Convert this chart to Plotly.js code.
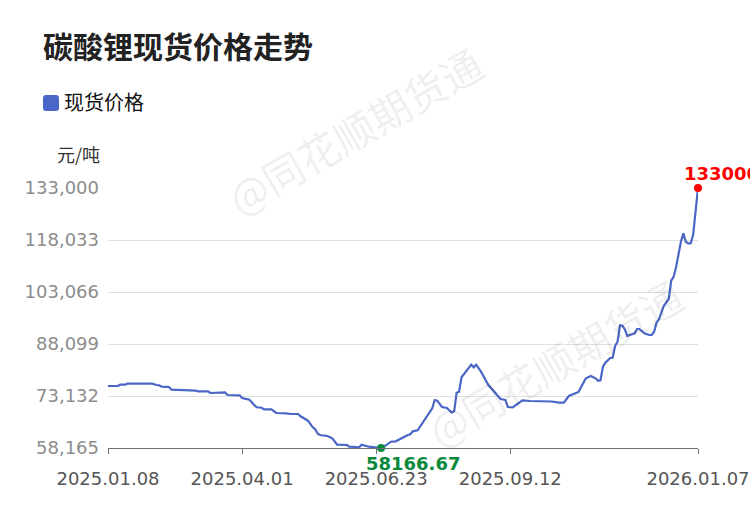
<!DOCTYPE html>
<html>
<head>
<meta charset="utf-8">
<script src="https://cdn.plot.ly/plotly-3.0.1.min.js"></script>
<style>html,body{margin:0;padding:0;background:#fff}</style>
</head>
<body>
<div id="chart" style="width:750px;height:510px"></div>
<script>
const chartTitle = "碳酸锂现货价格走势";
const seriesName = "现货价格";
const unitLabel = "元/吨";
const watermark = "@同花顺期货通";
const dayIndex = [0,4,5,7,8,18,20,21,22,25,26,31,36,37,41,42,44,45,48,49,54,55,58,60,61,63,64,67,69,73,75,78,79,82,84,85,86,87,90,92,94,98,99,103,104,107,112,114,116,118,120,121,123,124,125,127,129,131,133,134,135,137,139,141,142,143,144,145,147,149,150,151,153,156,159,161,163,164,166,170,173,177,182,185,187,189,190,193,195,196,198,200,201,202,203,204,206,207,208,209,210,211,212,213,214,216,217,218,220,222,223,224,225,226,228,230,231,232,233,235,236,237,238,239,240,242];
const price = [76010,76010,76385,76385,76672,76672,76298,76212,75809,75723,74945,74859,74658,74485,74485,73996,73996,74197,74197,73420,73334,72557,72067,70542,69880,69765,69304,69304,68239,68153,67951,67951,67289,66023,64123,63547,62281,61907,61619,60957,59115,59028,58539,58366,59115,58539,58166.67,58942,59978,60093,60842,61245,61907,62108,62972,63260,65274,67663,69592,71981,71779,69966,69678,68325,68815,74082,74370,78514,80414,82141,81393,82141,80126,76298,73909,72269,71981,69966,69880,71894,71693,71549,71549,71204,71204,73132,73420,74283,76960,78227,78889,78227,77536,77651,81565,82717,84070,84156,87524,88761,93482,93367,92330,90402,90690,91179,92417,92417,91179,90690,90690,91639,94230,95208,99123,101052,106318,107470,110176,117544,119962,117544,117083,117083,119473,133000];
const xTickIndex = [0,55,110,165,242];
const xTickLabels = ["2025.01.08","2025.04.01","2025.06.23","2025.09.12","2026.01.07"];
const yTicks = [58165,73132,88099,103066,118033,133000];
const yTickLabels = ["58,165","73,132","88,099","103,066","118,033","133,000"];

const minV = Math.min(...price), maxV = Math.max(...price);
const minI = dayIndex[price.indexOf(minV)], maxI = dayIndex[price.indexOf(maxV)];
const tickFont = "'DejaVu Sans', sans-serif";
const cjk = "'Noto Sans CJK SC', 'Noto Sans', sans-serif";

const traces = [
  {x: dayIndex, y: price, mode: "lines", name: seriesName, cliponaxis: false, hoverinfo: "x+y",
   line: {color: "#4a66c6", width: 2.2, shape: "linear"}},
  {x: [minI], y: [minV], mode: "markers", cliponaxis: false, marker: {color: "#0a8a3c", size: 8}},
  {x: [maxI], y: [maxV], mode: "markers", cliponaxis: false, marker: {color: "#ff0000", size: 8}}
];
const layout = {
  width: 750, height: 510, showlegend: false,
  paper_bgcolor: "#fff", plot_bgcolor: "rgba(0,0,0,0)",
  margin: {l: 108, r: 52, t: 188, b: 62, pad: 0},
  title: {text: chartTitle, x: 43/750, xanchor: "left", xref: "container", y: 1-47/510, yanchor: "middle",
    font: {family: cjk, size: 30, color: "#222", weight: 700}},
  xaxis: {type: "linear", range: [0, 242], tickmode: "array", tickvals: xTickIndex, ticktext: xTickLabels,
    showgrid: false, zeroline: false, showline: true, linecolor: "#6e7079", linewidth: 1,
    ticks: "outside", ticklen: 5, tickcolor: "#6e7079", tickwidth: 1, ticklabelstandoff: 9,
    tickfont: {family: tickFont, size: 18, color: "#555"}},
  yaxis: {type: "linear", range: [58165, 133000], tickmode: "array", tickvals: yTicks, ticktext: yTickLabels,
    showgrid: true, gridcolor: "#e0e0e0", gridwidth: 1, zeroline: false, showline: false, ticks: "",
    ticklabelstandoff: 8,
    tickfont: {family: tickFont, size: 18, color: "#8c8c8c"}},
  shapes: [{type: "path", xref: "paper", yref: "paper", fillcolor: "#4a66c6", line: {width: 0},
    path: "M " + (-62/590) + " " + (353/260) + " L " + (-52/590) + " " + (353/260) +
      " Q " + (-49/590) + " " + (353/260) + " " + (-49/590) + " " + (350/260) +
      " L " + (-49/590) + " " + (340/260) + " Q " + (-49/590) + " " + (337/260) + " " + (-52/590) + " " + (337/260) +
      " L " + (-62/590) + " " + (337/260) + " Q " + (-65/590) + " " + (337/260) + " " + (-65/590) + " " + (340/260) +
      " L " + (-65/590) + " " + (350/260) + " Q " + (-65/590) + " " + (353/260) + " " + (-62/590) + " " + (353/260) + " Z"}],
  annotations: [
    {xref: "paper", yref: "paper", x: -46/590, y: 347/260, xanchor: "left", yanchor: "middle", showarrow: false,
     text: seriesName, font: {family: cjk, size: 20, color: "#111"}},
    {xref: "paper", yref: "paper", x: -6/590, y: 294/260, xanchor: "right", yanchor: "middle", showarrow: false,
     text: unitLabel, font: {family: cjk, size: 18, color: "#333"}},
    {xref: "x", yref: "y", x: maxI, y: maxV, xanchor: "left", yanchor: "bottom", xshift: -16, yshift: 2, showarrow: false,
     text: String(maxV), font: {family: tickFont, size: 18, color: "#ff0000", weight: 700}},
    {xref: "x", yref: "y", x: minI, y: minV, xanchor: "center", yanchor: "top", xshift: 32, yshift: -3, showarrow: false,
     text: String(minV), font: {family: tickFont, size: 18, color: "#0a8a3c", weight: 700}},
    {xref: "paper", yref: "paper", x: 246/590, y: 318/260, xanchor: "center", yanchor: "middle", showarrow: false, textangle: -30,
     text: watermark, font: {family: cjk, size: 41, color: "rgba(0,0,0,0.08)"}},
    {xref: "paper", yref: "paper", x: 446/590, y: 86/260, xanchor: "center", yanchor: "middle", showarrow: false, textangle: -30,
     text: watermark, font: {family: cjk, size: 41, color: "rgba(0,0,0,0.08)"}}
  ]
};
Plotly.newPlot("chart", traces, layout, {displayModeBar: false, staticPlot: true});
</script>
</body>
</html>
